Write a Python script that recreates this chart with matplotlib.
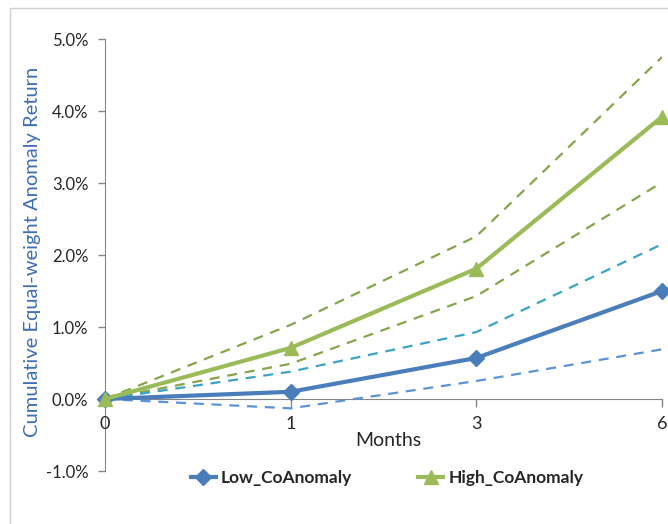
import matplotlib
matplotlib.use("Agg")
import matplotlib.pyplot as plt
from matplotlib.patches import Rectangle
from matplotlib.ticker import FuncFormatter

plt.rcParams['font.family'] = ['Lato', 'DejaVu Sans']

# Horizon (months) shown as evenly spaced categories
months = ["0", "1", "3", "6"]

# Cumulative returns in percent
low_coanomaly = [0.0, 0.10, 0.57, 1.50]
low_upper = [0.0, 0.38, 0.93, 2.15]
low_lower = [0.0, -0.13, 0.25, 0.69]

high_coanomaly = [0.0, 0.71, 1.81, 3.92]
high_upper = [0.0, 1.03, 2.26, 4.75]
high_lower = [0.0, 0.49, 1.43, 3.01]

y_ticks = [-1, 0, 1, 2, 3, 4, 5]

blue = "#4A7EBB"
green = "#9BBB59"
olive = "#86A44A"
teal = "#3AA4C2"
light_blue = "#5B93D8"
axis_gray = "#868686"
text_color = "#262626"

W, H = 668, 524
fig = plt.figure(figsize=(W / 100, H / 100), dpi=100)
fig.patch.set_facecolor("white")

# outer chart-area frame
fig.patches.append(Rectangle((10 / W, -0.05), 1.2, 1 - 8 / H + 0.05,
                             transform=fig.transFigure, fill=False,
                             edgecolor="#D0D0D0", linewidth=1.0, zorder=0))

left, right = 105 / W, 662 / W
bottom, top = 1 - 471 / H, 1 - 39 / H
ax = fig.add_axes([left, bottom, right - left, top - bottom])
ax.set_facecolor("none")

x = list(range(len(months)))
dash = (0, (4.5, 3.5))

ax.plot(x, high_upper, color=olive, lw=1.6, ls=dash, zorder=3)
ax.plot(x, high_lower, color=olive, lw=1.6, ls=dash, zorder=3)
ax.plot(x, low_upper, color=teal, lw=1.6, ls=dash, zorder=3)
ax.plot(x, low_lower, color=light_blue, lw=1.6, ls=dash, zorder=3)

ax.plot(x, low_coanomaly, color=blue, lw=3, marker="D", markersize=8,
        label="Low_CoAnomaly", zorder=4, clip_on=False)
ax.plot(x, high_coanomaly, color=green, lw=3, marker="^", markersize=10,
        label="High_CoAnomaly", zorder=5, clip_on=False)

ax.set_xlim(0, len(months) - 1)
ax.set_ylim(-1, 5)
ax.set_xticks(x)
ax.set_xticklabels(months)
ax.set_yticks(y_ticks)
ax.yaxis.set_major_formatter(FuncFormatter(lambda v, p: f"{v:.1f}%"))

for s in ("top", "right"):
    ax.spines[s].set_visible(False)
ax.spines["bottom"].set_position(("data", 0))
ax.spines["bottom"].set_color(axis_gray)
ax.spines["left"].set_color(axis_gray)
ax.spines["bottom"].set_zorder(1)
ax.spines["left"].set_zorder(1)

ax.tick_params(axis="y", direction="out", length=5, width=1, color=axis_gray,
               labelsize=12, labelcolor=text_color, pad=7)
ax.tick_params(axis="x", direction="out", length=6, width=1, color=axis_gray,
               labelsize=13, labelcolor=text_color, pad=6)

fig.text(388 / W, 1 - 440 / H, "Months", ha="center", va="center",
         fontsize=14, color=text_color)
fig.text(33 / W, 1 - 252 / H, "Cumulative Equal-weight Anomaly Return",
         rotation=90, ha="center", va="center", fontsize=14.5, color="#3E6DB5")

handles, labels = ax.get_legend_handles_labels()
leg = fig.legend(handles, labels, loc="center", bbox_to_anchor=(387 / W, 1 - 478 / H),
                 ncol=2, frameon=False, handlelength=1.45, handletextpad=0.3,
                 columnspacing=3.8, prop={"weight": "bold", "size": 12.5})
for t in leg.get_texts():
    t.set_color(text_color)

fig.savefig("out.png", dpi=100)
